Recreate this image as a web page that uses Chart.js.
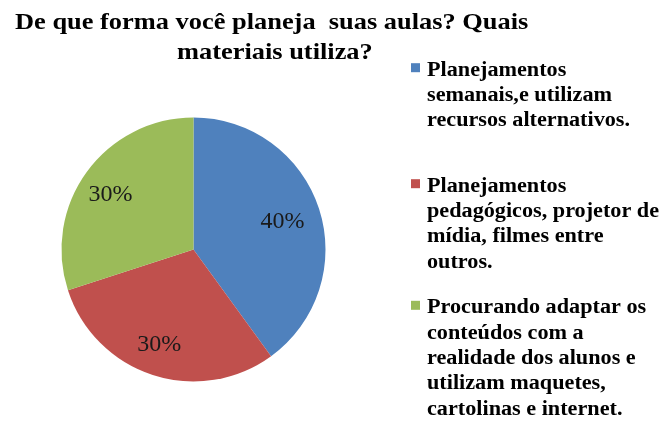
<!DOCTYPE html>
<html>
<head>
<meta charset="utf-8">
<script src="https://cdn.jsdelivr.net/npm/chart.js@4.4.1/dist/chart.umd.min.js"></script>
<style>
  html, body { margin: 0; padding: 0; background: #fff; }
  #wrap { width: 667px; height: 421px; position: relative; }
</style>
</head>
<body>
<div id="wrap"><canvas id="pieChart"></canvas></div>
<script>
// chart data
const titleLines = ['De que forma você planeja  suas aulas? Quais', 'materiais utiliza?'];
const categories = [
    ['Planejamentos', 'semanais,e utilizam', 'recursos alternativos.'],
    ['Planejamentos', 'pedagógicos, projetor de', 'mídia, filmes entre', 'outros.'],
    ['Procurando adaptar os', 'conteúdos com a', 'realidade dos alunos e', 'utilizam maquetes,', 'cartolinas e internet.']
];
const values = [40, 30, 30];
const sliceColors = ['#4F81BD', '#C0504D', '#9BBB59'];

const serif = '"Liberation Serif", "Times New Roman", serif';

// the original picture is a bit stretched sideways
const stretchText = (ctx, text, x, y, sx) => {
    ctx.save();
    ctx.translate(x, y);
    ctx.scale(sx, 1);
    ctx.fillText(text, 0, 0);
    ctx.restore();
};

// title, legend and percent labels drawn on the canvas
const officeDecor = {
    id: 'officeDecor',
    afterDatasetsDraw(chart) {
        const ctx = chart.ctx;
        ctx.save();
        ctx.fillStyle = '#000';
        ctx.textBaseline = 'alphabetic';
        ctx.textAlign = 'left';

        // title
        ctx.font = 'bold 24px ' + serif;
        const titleX = [15, 177];
        const titleY = [28.5, 59];
        titleLines.forEach((t, i) => stretchText(ctx, t, titleX[i], titleY[i], 1.1));

        // percent labels
        const total = values.reduce((a, b) => a + b, 0);
        const meta = chart.getDatasetMeta(0);
        ctx.font = '24px ' + serif;
        ctx.fillStyle = '#1a1a1a';
        ctx.textAlign = 'center';
        ctx.textBaseline = 'middle';
        meta.data.forEach((arc, i) => {
            const p = arc.getProps(['x', 'y', 'startAngle', 'endAngle', 'outerRadius'], true);
            const mid = (p.startAngle + p.endAngle) / 2;
            const r = p.outerRadius * 0.74;
            const pct = Math.round(values[i] / total * 100) + '%';
            ctx.fillText(pct, p.x + Math.cos(mid) * r - 4, p.y + Math.sin(mid) * r + 2.5);
        });

        // legend
        const firstBase = [75.7, 191.7, 313.3];
        const lineH = 25.3;
        ctx.textAlign = 'left';
        ctx.textBaseline = 'alphabetic';
        ctx.font = 'bold 20px ' + serif;
        categories.forEach((lines, i) => {
            ctx.fillStyle = sliceColors[i];
            ctx.fillRect(411, firstBase[i] - 12.5, 9, 9);
            ctx.fillStyle = '#000';
            lines.forEach((l, j) => stretchText(ctx, l, 427, firstBase[i] + j * lineH, 1.11));
        });
        ctx.restore();
    }
};

const ctx = document.getElementById('pieChart').getContext('2d');
const myChart = new Chart(ctx, {
    type: 'pie',
    data: {
        labels: categories,
        datasets: [{
            data: values,
            backgroundColor: sliceColors,
            borderWidth: 0
        }]
    },
    options: {
        responsive: true,
        maintainAspectRatio: false,
        animation: false,
        layout: {
            padding: { left: 61.5, right: 341.5, top: 117.5, bottom: 39.5 }
        },
        plugins: {
            legend: { display: false },
            title: { display: false },
            tooltip: { enabled: false }
        }
    },
    plugins: [officeDecor]
});
</script>
</body>
</html>
